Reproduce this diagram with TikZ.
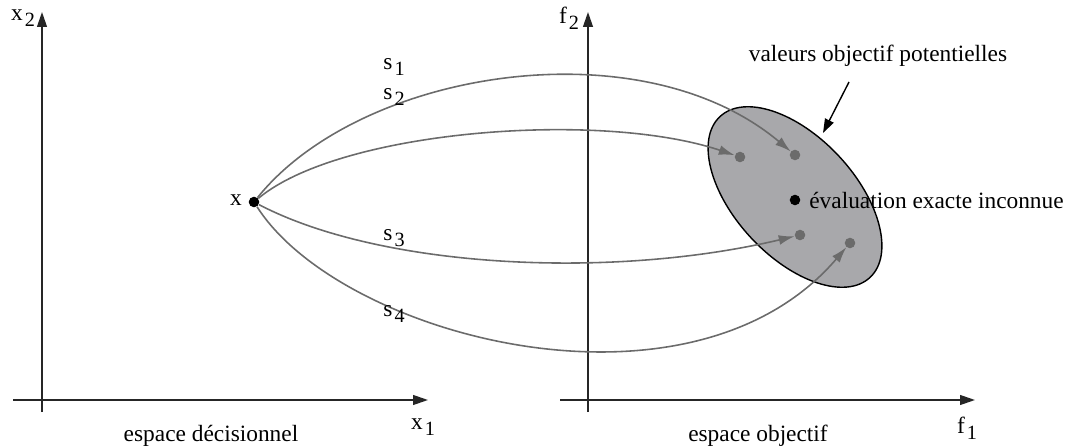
\documentclass[tikz,border=0pt]{standalone}
\usepackage{fontspec}
\setmainfont{Liberation Serif}
\usetikzlibrary{arrows.meta,shapes.geometric}

\definecolor{curvegray}{HTML}{6B6B6B}
\definecolor{setgray}{HTML}{A8A8AB}
\newcommand{\idx}[1]{\kern1.2pt\raisebox{-0.55ex}{\fontsize{11.5}{12}\selectfont #1}}

\begin{document}
\begin{tikzpicture}[x=0.02cm, y=-0.02cm,
  axis/.style={-{Triangle[length=8.5pt, width=5.6pt]}, line width=0.9pt, black!85},
  traj/.style={-{Latex[length=9pt, width=5.6pt]}, line width=0.9pt, curvegray},
  sol/.style={circle, fill=curvegray, inner sep=0pt, minimum size=6pt},
  label/.style={font=\fontsize{13.3}{16}\selectfont, inner sep=1pt},
]
\useasboundingbox (0,0) rectangle (1069,446);

% === AXES ===
\coordinate (dv0) at (42,412);   \coordinate (dv1) at (42,12);
\coordinate (dh0) at (13,400);   \coordinate (dh1) at (428,400);
\coordinate (ov0) at (588,412);  \coordinate (ov1) at (588,12);
\coordinate (oh0) at (560,400);  \coordinate (oh1) at (975,400);
\draw[axis] (dv0) -- (dv1);
\draw[axis] (dh0) -- (dh1);
\draw[axis] (ov0) -- (ov1);
\draw[axis] (oh0) -- (oh1);

\node[label] (x2) at (23,18) {x\idx{2}};
\node[label] (x1) at (423,427) {x\idx{1}};
\node[label] (f2) at (569,18) {f\idx{2}};
\node[label] (f1) at (967,428) {f\idx{1}};
\node[label] (dec) at (211,436) {espace décisionnel};
\node[label] (obj) at (758,436) {espace objectif};

% === OBJECTIVE SET ===
\node[draw, ellipse, fill=setgray, line width=0.8pt, inner sep=0pt,
      minimum width=4.4cm, minimum height=2.4cm, rotate=-47] (set) at (795,197) {};

\node[sol] (p1) at (795,155) {};
\node[sol] (p2) at (740,157) {};
\node[sol] (p3) at (800,235) {};
\node[sol] (p4) at (850,243) {};
\node[circle, fill=black, inner sep=0pt, minimum size=6pt] (ex) at (795,200) {};
\node[label, anchor=west, inner sep=0pt] (exl) at (809,200) {évaluation exacte inconnue};

\node[label] (vop) at (878,56) {valeurs objectif potentielles};
\coordinate (vopa) at (849,82);
\coordinate (vopb) at (823,133);
\draw[-{Triangle[length=8pt, width=5.4pt]}, line width=0.8pt] (vopa) -- (vopb);

% === DECISION POINT AND TRAJECTORIES ===
\node[circle, fill=black, inner sep=0pt, minimum size=6pt] (x) at (254,202) {};
\node[label] (xl) at (236,200) {x};

\draw[traj] (x) .. controls (360,70) and (640,25) .. (p1);
\draw[traj] (x) .. controls (340,130) and (600,110) .. (p2);
\draw[traj] (x) .. controls (380,268) and (610,280) .. (p3);
\draw[traj] (x) .. controls (340,337) and (690,430) .. (p4);

\node[label] (s1) at (394,67) {s\idx{1}};
\node[label] (s2) at (394,97) {s\idx{2}};
\node[label] (s3) at (394,238) {s\idx{3}};
\node[label] (s4) at (394,314) {s\idx{4}};
\end{tikzpicture}
\end{document}
